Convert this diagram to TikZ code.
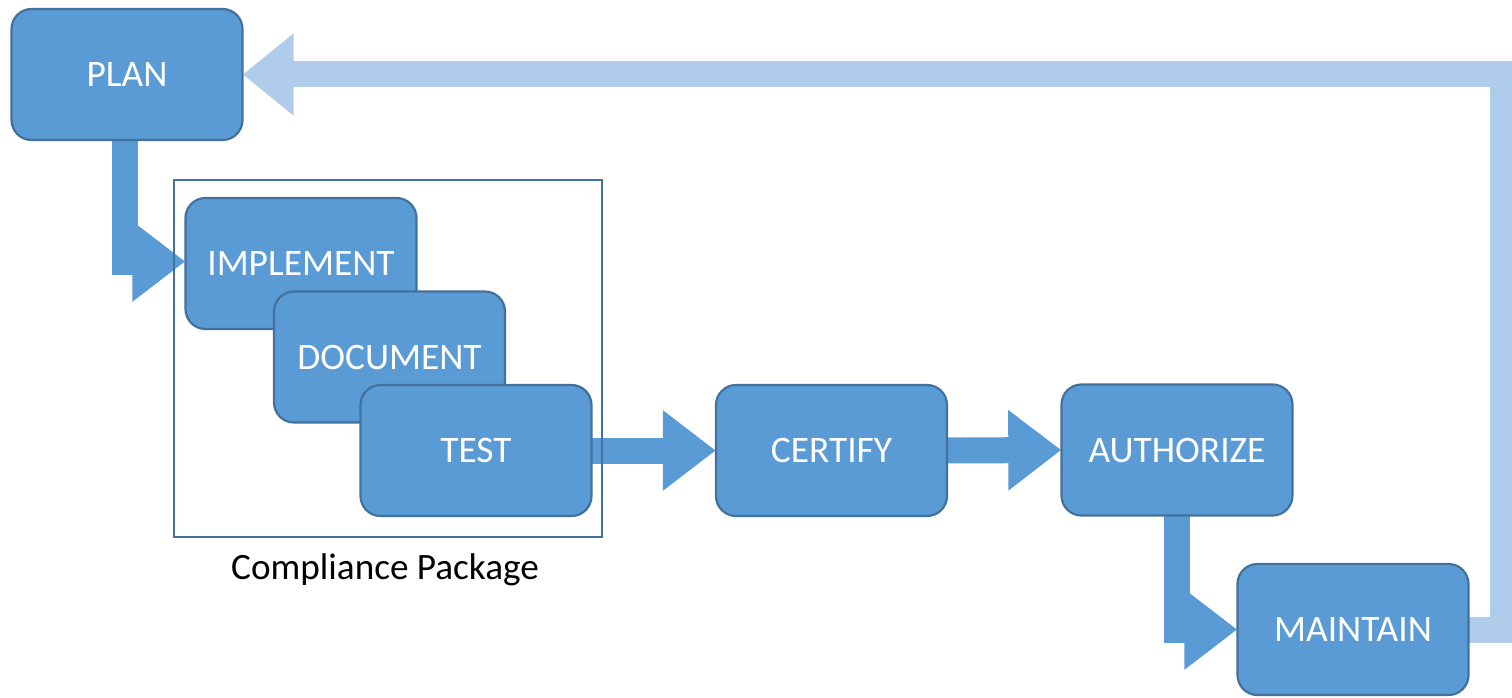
\documentclass[tikz,border=0pt]{standalone}
\usepackage{fontspec}
\setmainfont{Carlito}
\usetikzlibrary{arrows.meta}
\definecolor{boxfill}{HTML}{5B9BD5}
\definecolor{boxline}{HTML}{41719C}
\definecolor{lightarrow}{HTML}{AFCDEA}
\tikzset{
  stepbox/.style={draw=boxline, fill=boxfill, line width=2.2pt, rounded corners=20pt,
    minimum width=231pt, minimum height=131pt, inner sep=0pt, text=white,
    font=\fontsize{37.4}{42}\selectfont},
  fatarrow/.style={draw=boxfill, line width=26pt, line cap=butt, line join=miter,
    -{Triangle[width=77pt 0, length=53pt 0]}},
  fatlight/.style={draw=lightarrow, line width=26pt, line cap=butt, line join=miter,
    -{Triangle[width=79pt 0, length=51pt 0]}},
  frame/.style={draw=boxline, line width=1.8pt},
}
\begin{document}
\begin{tikzpicture}[x=1pt,y=1pt]
\useasboundingbox (0,0) rectangle (1512,-698);
% node positions (used for arrows first, drawn later)
\path
  (127,-74.5) coordinate (cplan)
  (301,-263.5) coordinate (cimpl)
  (389.5,-357) coordinate (cdoc)
  (476,-450.5) coordinate (ctest)
  (831.5,-450.5) coordinate (ccert)
  (1177,-450) coordinate (cauth)
  (1353,-629.5) coordinate (cmaint);
% invisible anchors for the connectors
\begin{scope}[every node/.style={minimum width=231pt, minimum height=131pt, inner sep=0pt}]
\node (plan) at (cplan) {};
\node (implement) at (cimpl) {};
\node (document) at (cdoc) {};
\node (test) at (ctest) {};
\node (certify) at (ccert) {};
\node (authorize) at (cauth) {};
\node (maintain) at (cmaint) {};
\end{scope}
\coordinate (fbx) at (1503,0);
% connectors
\draw[fatlight] (maintain.east) -| (fbx |- plan.east) -- (plan.east);
\draw[fatarrow] ([xshift=-2pt]plan.south) |- ([yshift=2pt]implement.west);
\draw[fatarrow] ([xshift=-1pt]test.east) -- (certify.west);
\draw[fatarrow] ([xshift=-1pt]certify.east) -- (authorize.west);
\draw[fatarrow] (authorize.south) |- (maintain.west);
% visible boxes
\node[stepbox] (planbox) at (plan) {PLAN};
\node[stepbox] (implbox) at (implement) {IMPLEMENT};
\node[stepbox] (docbox) at (document) {DOCUMENT};
\node[stepbox] (testbox) at (test) {TEST};
\node[stepbox] (certbox) at (certify) {CERTIFY};
\node[stepbox] (authbox) at (authorize) {AUTHORIZE};
\node[stepbox] (maintbox) at (maintain) {MAINTAIN};
% compliance package frame
\draw[frame] (174,-180) rectangle (602,-537);
\node[anchor=base, font=\fontsize{37.2}{42}\selectfont, inner sep=0pt] (cplabel) at (385,-579) {Compliance Package};
\end{tikzpicture}
\end{document}
